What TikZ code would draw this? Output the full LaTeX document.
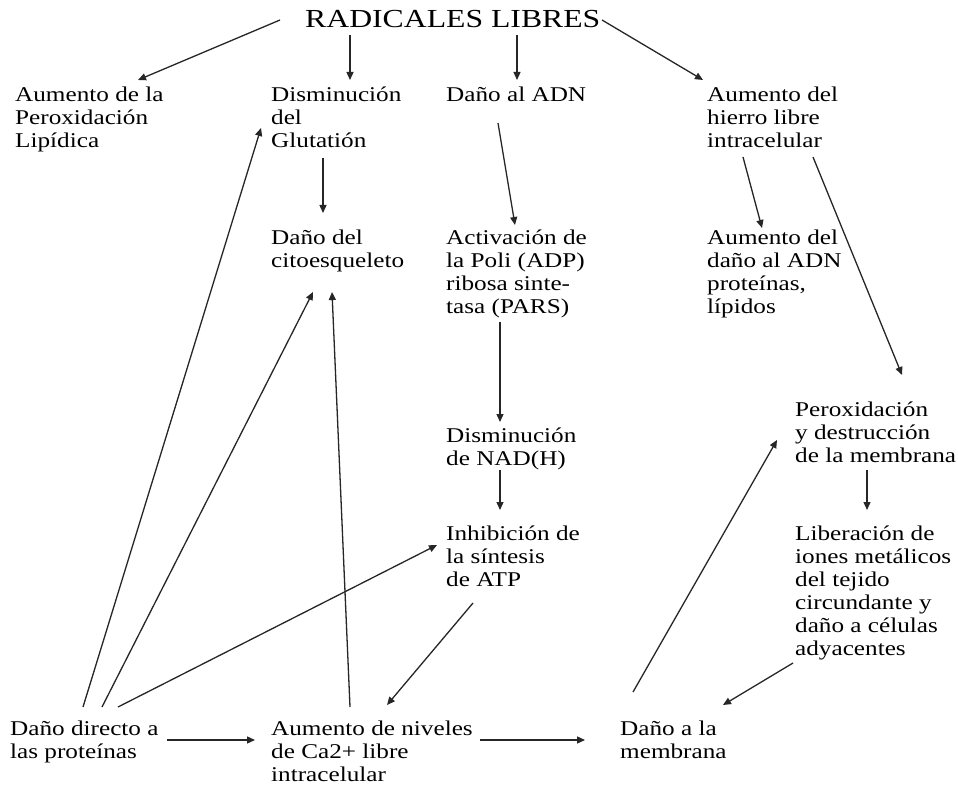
\documentclass[tikz,border=0pt]{standalone}
\usepackage{fontspec}
\setmainfont{Liberation Serif}[FakeStretch=1.2]
\newfontfamily\titlefont{Liberation Serif}[FakeStretch=1.22]
\usetikzlibrary{arrows.meta}
\newcommand{\lines}[1]{\begin{tabular}[t]{@{}l@{}}#1\end{tabular}}
\begin{document}
\begin{tikzpicture}[x=1pt,y=1pt,
  txt/.style={anchor=base west,inner sep=0pt,font=\fontsize{21}{23}\selectfont},
  arr/.style={line width=1.3pt,draw=black!85,-{Triangle[length=8pt,width=7pt]}}]
\useasboundingbox[fill=white] (0,0) rectangle (958,-786);
% nodes
\node[anchor=base west,inner sep=0pt,font=\titlefont\fontsize{26}{28}\selectfont] (T) at (305,-28) {RADICALES LIBRES};
\node[txt] (lip) at (15,-102) {\lines{Aumento de la\\Peroxidación\\Lipídica}};
\node[txt] (glu) at (271,-102) {\lines{Disminución\\del\\Glutatión}};
\node[txt] (adn) at (446,-102) {\lines{Daño al ADN}};
\node[txt] (fe) at (707,-102) {\lines{Aumento del\\hierro libre\\intracelular}};
\node[txt] (cito) at (271,-245) {\lines{Daño del\\citoesqueleto}};
\node[txt] (pars) at (446,-245) {\lines{Activación de\\la Poli (ADP)\\ribosa sinte-\\tasa (PARS)}};
\node[txt] (dadn) at (707,-245) {\lines{Aumento del\\daño al ADN\\proteínas,\\lípidos}};
\node[txt] (perox) at (795,-416) {\lines{Peroxidación\\y destrucción\\de la membrana}};
\node[txt] (nad) at (446,-442) {\lines{Disminución\\de NAD(H)}};
\node[txt] (atp) at (446,-540) {\lines{Inhibición de\\la síntesis\\de ATP}};
\node[txt] (lib) at (795,-540) {\lines{Liberación de\\iones metálicos\\del tejido\\circundante y\\daño a células\\adyacentes}};
\node[txt] (prot) at (10,-735) {\lines{Daño directo a\\las proteínas}};
\node[txt] (ca) at (271,-735) {\lines{Aumento de niveles\\de Ca2+ libre\\intracelular}};
\node[txt] (memb) at (620,-735) {\lines{Daño a la\\membrana}};
% connectors
\draw[arr] ([shift={(-25,8)}]T.base west) -- ([shift={(123,22)}]lip.base west);
\draw[arr] ([shift={(45,-7)}]T.base west) -- ([shift={(79,22)}]glu.base west);
\draw[arr] ([shift={(212,-7)}]T.base west) -- ([shift={(71,22)}]adn.base west);
\draw[arr] ([shift={(297,8)}]T.base west) -- ([shift={(-4,22)}]fe.base west);
\draw[arr] ([shift={(52,-21)}]adn.base west) -- ([shift={(69,20)}]pars.base west);
\draw[arr] ([shift={(52,-56)}]glu.base west) -- ([shift={(52,32)}]cito.base west);
\draw[arr] ([shift={(36,-55)}]fe.base west) -- ([shift={(55,17)}]dadn.base west);
\draw[arr] ([shift={(106,-55)}]fe.base west) -- ([shift={(107,41)}]perox.base west);
\draw[arr] ([shift={(54,-77)}]pars.base west) -- ([shift={(54,20)}]nad.base west);
\draw[arr] ([shift={(54,-28)}]nad.base west) -- ([shift={(54,30)}]atp.base west);
\draw[arr] ([shift={(72,-54)}]perox.base west) -- ([shift={(72,30)}]lib.base west);
\draw[arr] ([shift={(27,-63)}]atp.base west) -- ([shift={(116,30)}]ca.base west);
\draw[arr] ([shift={(157,-5)}]prot.base west) -- ([shift={(-16,-5)}]ca.base west);
\draw[arr] ([shift={(209,-5)}]ca.base west) -- ([shift={(-35,-5)}]memb.base west);
\draw[arr] ([shift={(-2,-123)}]lib.base west) -- ([shift={(103,30)}]memb.base west);
\draw[arr] ([shift={(13,43)}]memb.base west) -- ([shift={(-18,-24)}]perox.base west);
\draw[arr] ([shift={(73,28)}]prot.base west) -- ([shift={(-10,-26)}]glu.base west);
\draw[arr] ([shift={(92,28)}]prot.base west) -- ([shift={(42,-47)}]cito.base west);
\draw[arr] ([shift={(108,28)}]prot.base west) -- ([shift={(-9,-5)}]atp.base west);
\draw[arr] ([shift={(79,28)}]ca.base west) -- ([shift={(61,-47)}]cito.base west);
\end{tikzpicture}
\end{document}
